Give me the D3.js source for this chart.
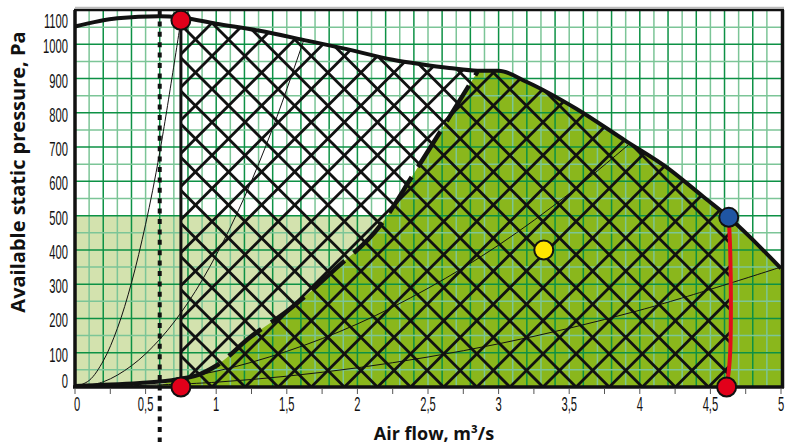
<!DOCTYPE html>
<html><head><meta charset="utf-8">
<script src="https://cdn.jsdelivr.net/npm/d3@7"></script>
<style>body{margin:0;background:#fff}svg{display:block}</style>
</head><body>
<svg id="c" width="786" height="446"></svg>
<script>
// ---- data ----
const fanX = [0, 0.3, 0.6, 0.75, 1.0, 1.3, 1.65, 1.9, 2.25, 2.45, 2.65, 2.85, 3.0, 3.2, 3.55, 3.9, 4.2, 4.45, 4.63, 5.0];
const fanY = [1052, 1076, 1082, 1078, 1060, 1040, 1010, 988, 955, 942, 931, 923, 923, 890, 812, 718, 638, 555, 495, 346];
const dashX = [0.75, 0.87, 1.0, 1.24, 1.51, 1.84, 2.16, 2.40, 2.64, 2.85];
const dashY = [24, 35, 62, 145, 224, 343, 470, 623, 780, 920];
const baseX = [0, 0.25, 0.46, 0.67, 0.75];
const baseY = [3, 7, 12, 19, 24];
const redX = [4.63, 4.64, 4.645, 4.64, 4.625, 4.61];
const redY = [495, 400, 250, 100, 30, 0];
const sys1X = [0, 0.1, 0.2, 0.3, 0.4, 0.5, 0.6, 0.75];
const sys1Y = [0, 19, 76, 171, 304, 475, 684, 1070];
const sys2X = [0, 0.2, 0.4, 0.6, 0.8, 1.0, 1.2, 1.4, 1.62];
const sys2Y = [0, 15, 62, 139, 246, 385, 554, 755, 1012];
const sys3X = [0, 0.5, 1, 1.5, 2, 2.5, 3, 3.5, 3.92];
const sys3Y = [0, 12, 46, 104, 184, 288, 414, 564, 707];
const sys4X = [0, 1, 2, 3, 4, 5];
const sys4Y = [0, 14, 56, 126, 224, 350];
const paleZone = {x0: 0, x1: 2.3, y0: 0, y1: 500};
const limitLineX = 0.75;
const dottedX = 0.6;
const pointsRed = [[0.75, 1070], [0.75, 0], [4.615, 0]];
const pointBlue = [4.63, 495];
const pointYellow = [3.32, 400];
const xTicks = [0, 0.5, 1, 1.5, 2, 2.5, 3, 3.5, 4, 4.5, 5];
const xTickLabels = ["0", "0,5", "1", "1,5", "2", "2,5", "3", "3,5", "4", "4,5", "5"];
const yTicks = [0, 100, 200, 300, 400, 500, 600, 700, 800, 900, 1000, 1100];
const yTickLabels = ["0", "100", "200", "300", "400", "500", "600", "700", "800", "900", "1000", "1100"];

// ---- drawing ----
const svg = d3.select('#c');
const x = d3.scaleLinear().domain([0, 5]).range([75, 781]);
const y = d3.scaleLinear().domain([0, 1100]).range([387, 10]);
const zip = (a, b) => a.map((v, i) => [v, b[i]]);
const lineM = d3.line().x(d => x(d[0])).y(d => y(d[1])).curve(d3.curveMonotoneX);
const lineL = d3.line().x(d => x(d[0])).y(d => y(d[1]));
const lineC = d3.line().x(d => x(d[0])).y(d => y(d[1])).curve(d3.curveCatmullRom);

const defs = svg.append('defs');
const fanPts = zip(fanX, fanY);
defs.append('clipPath').attr('id', 'under').append('path')
  .attr('d', lineM(fanPts) + `L${x(5)},${y(0)}L${x(0)},${y(0)}Z`);
const redPts = zip(redX, redY);
const hatchPoly = [[limitLineX, 0], [limitLineX, 1100], [redX[0], 1100]].concat(redPts);
defs.append('clipPath').attr('id', 'hatchc').append('path').attr('d', lineL(hatchPoly) + 'Z');
defs.append('clipPath').attr('id', 'plot').append('rect')
  .attr('x', x(0)).attr('y', y(1100)).attr('width', x(5) - x(0)).attr('height', y(0) - y(1100));

// pale zone
svg.append('rect').attr('x', x(paleZone.x0)).attr('y', y(paleZone.y1))
  .attr('width', x(paleZone.x1) - x(paleZone.x0)).attr('height', y(paleZone.y0) - y(paleZone.y1))
  .attr('fill', '#d3e2ae');

// olive zone
const dashPts = zip(dashX, dashY);
const oliveD = `M${x(0.55)},${y(0)}` + lineM(dashPts).replace(/^M/, 'L') +
  `L${x(2.9)},${y(1100)}L${x(5)},${y(1100)}L${x(5)},${y(0)}Z`;
svg.append('g').attr('clip-path', 'url(#under)').append('path').attr('d', oliveD).attr('fill', '#8ab71c');

// grid
const grid = svg.append('g').attr('clip-path', 'url(#plot)');
d3.range(1, 50).forEach(i => {
  grid.append('line').attr('x1', x(i / 10)).attr('x2', x(i / 10)).attr('y1', y(1100)).attr('y2', y(0))
    .attr('stroke', i % 2 === 0 ? '#0d9145' : '#7cc597').attr('stroke-width', 1.5);
});
d3.range(1, 22).forEach(i => {
  grid.append('line').attr('y1', y(i * 50)).attr('y2', y(i * 50)).attr('x1', x(0)).attr('x2', x(5))
    .attr('stroke', i % 2 === 0 ? '#0d9145' : '#7cc597').attr('stroke-width', 1.5);
});

// system curves
const sysG = svg.append('g').attr('clip-path', 'url(#plot)');
[[sys1X, sys1Y], [sys2X, sys2Y], [sys3X, sys3Y], [sys4X, sys4Y]].forEach(([a, b]) => {
  sysG.append('path').attr('d', lineC(zip(a, b)))
    .attr('fill', 'none').attr('stroke', '#111').attr('stroke-width', 1);
});

// hatch
const hg = svg.append('g').attr('clip-path', 'url(#under)').append('g').attr('clip-path', 'url(#hatchc)');
const d = 33.1, c1 = 930, c2 = 156;
for (let k = -40; k <= 40; k++) {
  const a = c1 + k * d, b = c2 + k * d;
  hg.append('line').attr('x1', a).attr('y1', 0).attr('x2', a - 446).attr('y2', 446)
    .attr('stroke', '#111').attr('stroke-width', 2.8);
  hg.append('line').attr('x1', b).attr('y1', 0).attr('x2', b + 446).attr('y2', 446)
    .attr('stroke', '#111').attr('stroke-width', 2.8);
}

// fan curve
svg.append('path').attr('d', lineM(fanPts)).attr('fill', 'none').attr('stroke', '#111').attr('stroke-width', 4);
// dashed boundary
svg.append('path').attr('d', lineM(dashPts)).attr('fill', 'none').attr('stroke', '#111')
  .attr('stroke-width', 4.5).attr('stroke-dasharray', '42 12');
// base curve
svg.append('path').attr('d', lineM(zip(baseX, baseY))).attr('fill', 'none').attr('stroke', '#111').attr('stroke-width', 4);
// vertical limit line
svg.append('line').attr('x1', x(limitLineX)).attr('x2', x(limitLineX)).attr('y1', y(1070)).attr('y2', y(0))
  .attr('stroke', '#111').attr('stroke-width', 3);
// red line
svg.append('path').attr('d', lineC(redPts))
  .attr('fill', 'none').attr('stroke', '#e30c1c').attr('stroke-width', 4);

// borders
svg.append('line').attr('x1', x(0)).attr('x2', 784).attr('y1', 7.5).attr('y2', 7.5).attr('stroke', '#bbb').attr('stroke-width', 1.5);
svg.append('line').attr('x1', x(0) - 1).attr('x2', 784).attr('y1', y(1100)).attr('y2', y(1100)).attr('stroke', '#111').attr('stroke-width', 2.5);
svg.append('line').attr('x1', x(0)).attr('x2', x(0)).attr('y1', y(1100)).attr('y2', y(0) + 1).attr('stroke', '#111').attr('stroke-width', 3.5);
svg.append('line').attr('x1', 782.5).attr('x2', 782.5).attr('y1', y(1100)).attr('y2', y(0) + 1).attr('stroke', '#111').attr('stroke-width', 3.5);
svg.append('line').attr('x1', x(0) - 2).attr('x2', 784).attr('y1', y(0)).attr('y2', y(0)).attr('stroke', '#111').attr('stroke-width', 3.5);

// x ticks
d3.range(0, 21).forEach(i => {
  svg.append('line').attr('x1', x(i * 0.25)).attr('x2', x(i * 0.25)).attr('y1', y(0) + 2).attr('y2', y(0) + 7)
    .attr('stroke', '#555').attr('stroke-width', 1);
});

// dotted line
svg.append('line').attr('x1', x(dottedX)).attr('x2', x(dottedX)).attr('y1', 11).attr('y2', 442)
  .attr('stroke', '#111').attr('stroke-width', 4).attr('stroke-dasharray', '5 5.4');

// dots
const dot = (p, fill) => svg.append('circle').attr('cx', x(p[0])).attr('cy', y(p[1])).attr('r', 9.5)
  .attr('fill', fill).attr('stroke', '#111').attr('stroke-width', 2);
pointsRed.forEach(p => dot(p, '#e2001a'));
dot(pointBlue, '#1f55a2');
dot(pointYellow, '#ffe500');

// tick labels
const lab = (tx, ty, s, anchor) => svg.append('g').attr('transform', `translate(${tx},${ty}) scale(0.56,1)`)
  .append('text').attr('text-anchor', anchor).attr('font-family', 'Liberation Sans, Arial, sans-serif')
  .attr('font-size', 20).attr('fill', '#111').text(s);
xTicks.forEach((v, i) => lab(x(v) + (i === 0 ? 2 : 0), 411, xTickLabels[i], 'middle'));
yTicks.forEach((v, i) => {
  let ty = y(v) + 9;
  if (v === 1100) ty = 28;
  if (v === 0) ty = 388;
  lab(68, ty, yTickLabels[i], 'end');
});

// axis titles
svg.append('text').attr('x', 434).attr('y', 440).attr('text-anchor', 'middle')
  .attr('font-family', 'Open Sans, sans-serif').attr('font-weight', 'bold').attr('font-size', 18)
  .attr('fill', '#111').text('Air flow, m³/s');
svg.append('text').attr('transform', 'translate(25,172) rotate(-90)').attr('text-anchor', 'middle')
  .attr('font-family', 'Open Sans, sans-serif').attr('font-weight', 'bold').attr('font-size', 20)
  .attr('fill', '#111').text('Available static pressure, Pa');
</script>
</body></html>
